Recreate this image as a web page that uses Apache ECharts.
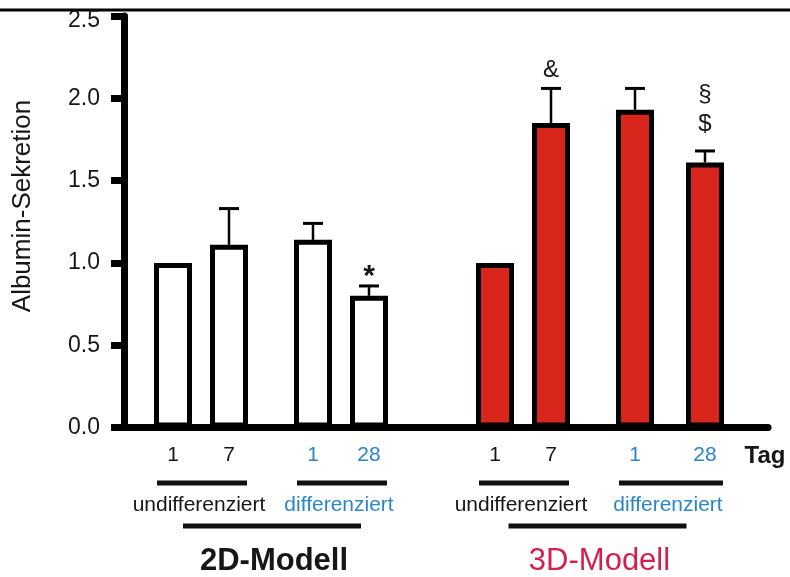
<!DOCTYPE html>
<html>
<head>
<meta charset="utf-8">
<script src="https://cdn.jsdelivr.net/npm/echarts@6/dist/echarts.min.js"></script>
<style>
  html, body { margin: 0; padding: 0; background: #fff; }
  #chart { width: 790px; height: 577px; }
</style>
</head>
<body>
<div id="chart"></div>
<script>
// ---- data ----
// day labels along the x axis (blank entries are empty slots between bars)
const categories = [
  '', '', '', '1', '', '', '', '7', '', '', '', '', '', '1', '', '', '', '28',
  '', '', '', '', '', '', '', '', '1', '', '', '', '7', '', '', '', '', '', '1', '', '', '', '', '28',
  '', '', '', ''
];
const albumin      = [1.00, 1.11, 1.14, 0.80, 1.00, 1.85, 1.93, 1.61];
const albuminUpper = [null, 1.33, 1.24, 0.86, null, 2.06, 2.06, 1.68];
const model        = ['2D', '2D', '2D', '2D', '3D', '3D', '3D', '3D'];
const state        = ['undifferenziert', 'undifferenziert', 'differenziert', 'differenziert',
                      'undifferenziert', 'undifferenziert', 'differenziert', 'differenziert'];
const marks        = ['', '', '', '*', '', '&', '', '§\n$'];
const yTicks       = [0, 0.5, 1.0, 1.5, 2.0, 2.5];
const modelNames   = { '2D': '2D-Modell', '3D': '3D-Modell' };

// ---- styles ----
const FONT = 'Liberation Sans, Arial, sans-serif';
const INK = '#161616';
const BLUE = '#2a86c6';
const RED_BAR = '#d8261d';
const RED_TXT = '#d41f4c';

// map slots -> bar index
const slotOfBar = [];
categories.forEach((c, i) => { if (c !== '') slotOfBar.push(i); });
const barOfSlot = {};
slotOfBar.forEach((s, b) => { barOfSlot[s] = b; });

const barData = categories.map((c, i) => {
  if (!(i in barOfSlot)) return '-';
  const b = barOfSlot[i];
  return { value: albumin[b], itemStyle: { color: model[b] === '3D' ? RED_BAR : '#ffffff' } };
});
const errData = slotOfBar.map((s, b) => [s, albumin[b], albuminUpper[b] == null ? albumin[b] : albuminUpper[b], b]);

const markStyle = {
  '*': { fontSize: 30, fontWeight: 'bold', gap: -6 },
  '&': { fontSize: 24, fontWeight: 'normal', gap: 3 },
  '§\n$': { fontSize: 24, fontWeight: 'normal', gap: 12 }
};

const chart = echarts.init(document.getElementById('chart'), null, { renderer: 'canvas' });

const yMax = yTicks[yTicks.length - 1];
const option = {
  animation: false,
  backgroundColor: '#ffffff',
  grid: { left: 124, right: 22, top: 16, bottom: 149.5, containLabel: false },
  xAxis: {
    type: 'category',
    data: categories,
    boundaryGap: true,
    axisLine: { show: true, lineStyle: { color: '#000', width: 7 } },
    axisTick: { show: false },
    splitLine: { show: false },
    axisLabel: {
      interval: 0,
      margin: 17,
      fontFamily: FONT,
      fontSize: 21,
      formatter: (v, i) => {
        if (v === '') return '';
        const b = barOfSlot[i];
        return state[b] === 'differenziert' ? '{d|' + v + '}' : '{u|' + v + '}';
      },
      rich: {
        u: { color: INK, fontSize: 21, fontFamily: FONT },
        d: { color: BLUE, fontSize: 21, fontFamily: FONT }
      }
    }
  },
  yAxis: {
    type: 'value',
    min: yTicks[0],
    max: yMax,
    interval: yTicks[1] - yTicks[0],
    axisLine: { show: true, lineStyle: { color: '#000', width: 7 } },
    axisTick: { show: true, length: 13, lineStyle: { color: '#000', width: 7 } },
    splitLine: { show: false },
    axisLabel: {
      margin: 24,
      color: INK,
      fontFamily: FONT,
      fontSize: 23,
      formatter: v => (v === yMax ? '{top|' + v.toFixed(1) + '}' : v.toFixed(1)),
      rich: {
        top: { color: INK, fontFamily: FONT, fontSize: 23, padding: [9, 0, 0, 0] }
      }
    }
  },
  series: [
    {
      type: 'bar',
      data: barData,
      barWidth: 38,
      itemStyle: { borderColor: '#000', borderWidth: 5 },
      z: 3
    },
    {
      type: 'custom',
      data: errData,
      encode: { x: 0, y: [1, 2] },
      z: 2,
      clip: false,
      renderItem: (params, api) => {
        const slot = api.value(0);
        const b = api.value(3);
        const base = api.coord([slot, api.value(1)]);
        const top = api.coord([slot, api.value(2)]);
        const children = [];
        if (albuminUpper[b] != null) {
          children.push({
            type: 'line',
            shape: { x1: base[0], y1: base[1], x2: top[0], y2: top[1] },
            style: { stroke: '#000', lineWidth: 2.5 }
          });
          children.push({
            type: 'line',
            shape: { x1: top[0] - 10, y1: top[1], x2: top[0] + 10, y2: top[1] },
            style: { stroke: '#000', lineWidth: 3 }
          });
        }
        const m = marks[b];
        if (m) {
          const st = markStyle[m] || { fontSize: 24, fontWeight: 'normal', gap: 4 };
          children.push({
            type: 'text',
            x: top[0],
            y: top[1] - st.gap,
            style: {
              text: m,
              fill: INK,
              fontFamily: FONT,
              fontSize: st.fontSize,
              fontWeight: st.fontWeight,
              lineHeight: 30,
              align: 'center',
              verticalAlign: 'bottom'
            }
          });
        }
        return { type: 'group', children };
      }
    }
  ]
};
chart.setOption(option);

// ---- group annotations beneath the axis, placed from the axis scale ----
const px = slot => chart.convertToPixel({ xAxisIndex: 0 }, slot);
const graphics = [];
// top rule
graphics.push({ type: 'line', shape: { x1: 0, y1: 10, x2: 790, y2: 10 }, style: { stroke: '#000', lineWidth: 3 }, silent: true });
// y axis title
graphics.push({
  type: 'text', x: 23, y: 206, rotation: Math.PI / 2,
  style: { text: 'Albumin-Sekretion', fontFamily: FONT, fontSize: 26, fill: INK, align: 'center', verticalAlign: 'middle' }
});
// "Tag"
graphics.push({
  type: 'text', x: 765, y: 456,
  style: { text: 'Tag', fontFamily: FONT, fontSize: 24, fontWeight: 'bold', fill: INK, align: 'center', verticalAlign: 'middle' }
});

const modelsSeen = [];
model.forEach(m => { if (!modelsSeen.includes(m)) modelsSeen.push(m); });
modelsSeen.forEach(m => {
  const subCenters = [];
  const subs = [];
  model.forEach((mm, b) => {
    if (mm !== m) return;
    let g = subs.find(s => s.state === state[b]);
    if (!g) { g = { state: state[b], bars: [] }; subs.push(g); }
    g.bars.push(b);
  });
  subs.forEach(g => {
    const x1 = px(slotOfBar[g.bars[0]]) - 16;
    const x2 = px(slotOfBar[g.bars[g.bars.length - 1]]) + 18;
    const cx = (x1 + x2) / 2;
    subCenters.push(cx);
    graphics.push({ type: 'line', shape: { x1, y1: 483, x2, y2: 483 }, style: { stroke: '#111', lineWidth: 5 } });
    graphics.push({
      type: 'text', x: cx - 3, y: 505,
      style: { text: g.state, fontFamily: FONT, fontSize: 21, fill: g.state === 'differenziert' ? BLUE : INK, align: 'center', verticalAlign: 'middle' }
    });
  });
  const mid = (subCenters[0] + subCenters[subCenters.length - 1]) / 2;
  graphics.push({ type: 'line', shape: { x1: mid - 89, y1: 526, x2: mid + 89, y2: 526 }, style: { stroke: '#111', lineWidth: 5 } });
  graphics.push({
    type: 'text', x: mid + 2, y: 561,
    style: {
      text: modelNames[m], fontFamily: FONT, fontSize: 31,
      fontWeight: m === '2D' ? 'bold' : 'normal',
      fill: m === '2D' ? INK : RED_TXT, align: 'center', verticalAlign: 'middle'
    }
  });
});
chart.setOption({ graphic: graphics });
</script>
</body>
</html>
